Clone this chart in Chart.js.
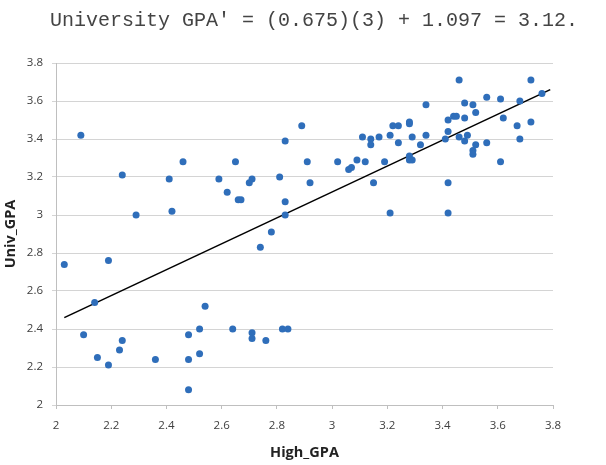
<!DOCTYPE html>
<html>
<head>
<meta charset="utf-8">
<script src="https://cdn.jsdelivr.net/npm/chart.js@4.4.1/dist/chart.umd.min.js"></script>
<style>
  html, body { margin: 0; padding: 0; background: #fff; }
  #wrap { width: 606px; height: 465px; position: relative; }
</style>
</head>
<body>
<div id="wrap"><canvas id="gpaChart"></canvas></div>
<script>
const titleText = "University GPA' = (0.675)(3) + 1.097 = 3.12.";

// high school GPA / university GPA
const highGPA = [
    2.09, 2.24, 2.29, 2.41, 2.46, 2.42, 2.59, 2.62, 2.65, 2.66,
    2.67, 2.70, 2.71, 2.78, 2.81, 2.83, 2.83, 2.83, 2.89, 2.91,
    2.92, 3.02, 3.06, 3.07, 3.09, 3.11, 3.12, 3.14, 3.14, 3.15,
    3.17, 3.19, 3.21, 3.21, 3.22, 3.24, 3.24, 3.28, 3.28, 3.29,
    3.28, 3.28, 3.29, 3.32, 3.34, 3.34, 3.41, 3.42, 3.42, 3.42,
    3.42, 3.44, 3.45, 3.46, 3.46, 3.48, 3.48, 3.48, 3.49, 3.51,
    3.52, 3.52, 3.51, 3.51, 3.56, 3.56, 3.61, 3.61, 3.62, 3.67,
    3.68, 3.68, 3.72, 3.72, 3.76,
    2.03, 2.19, 2.14, 2.10, 2.15, 2.19, 2.23, 2.24, 2.36, 2.48,
    2.48, 2.48, 2.52, 2.52, 2.54, 2.64, 2.74, 2.71, 2.71, 2.76,
    2.82, 2.84
];
const univGPA = [
    3.42, 3.21, 3.00, 3.19, 3.28, 3.02, 3.19, 3.12, 3.28, 3.08,
    3.08, 3.17, 3.19, 2.91, 3.20, 3.39, 3.07, 3.00, 3.47, 3.28,
    3.17, 3.28, 3.24, 3.25, 3.29, 3.41, 3.28, 3.40, 3.37, 3.17,
    3.41, 3.28, 3.42, 3.01, 3.47, 3.47, 3.38, 3.49, 3.48, 3.41,
    3.31, 3.29, 3.29, 3.37, 3.58, 3.42, 3.40, 3.50, 3.44, 3.17,
    3.01, 3.52, 3.52, 3.71, 3.41, 3.59, 3.51, 3.39, 3.42, 3.58,
    3.54, 3.37, 3.34, 3.32, 3.62, 3.38, 3.61, 3.28, 3.51, 3.47,
    3.60, 3.40, 3.71, 3.49, 3.64,
    2.74, 2.76, 2.54, 2.37, 2.25, 2.21, 2.29, 2.34, 2.24, 2.37,
    2.24, 2.08, 2.40, 2.27, 2.52, 2.40, 2.83, 2.38, 2.35, 2.34,
    2.40, 2.40
];

// regression line end points
const lineX = [2.03, 3.79];
const lineY = [2.46, 3.66];

const axisMin = 2;
const axisMax = 3.8;
const tickStep = 0.2;

const points = highGPA.map((x, i) => ({ x: x, y: univGPA[i] }));
const linePts = lineX.map((x, i) => ({ x: x, y: lineY[i] }));

const fmtTick = v => String(+Number(v).toFixed(1));

// title in typewriter font above the plot
const titlePlugin = {
    id: 'monoTitle',
    afterDraw(chart) {
        const ctx = chart.ctx;
        ctx.save();
        ctx.font = '20px "Liberation Mono", "DejaVu Sans Mono", monospace';
        ctx.fillStyle = '#444444';
        ctx.textAlign = 'left';
        ctx.textBaseline = 'middle';
        ctx.fillText(titleText, 50, 21);
        ctx.restore();
    }
};

const ctx = document.getElementById('gpaChart').getContext('2d');
new Chart(ctx, {
    type: 'scatter',
    data: {
        datasets: [
            {
                label: 'Students',
                data: points,
                backgroundColor: '#2F6EBA',
                borderColor: '#2F6EBA',
                pointRadius: 3.5,
                pointBorderWidth: 0
            },
            {
                type: 'line',
                label: 'Regression',
                data: linePts,
                borderColor: '#000000',
                borderWidth: 1.6,
                pointRadius: 0,
                fill: false
            }
        ]
    },
    options: {
        responsive: true,
        maintainAspectRatio: false,
        animation: false,
        layout: {
            padding: { top: 63, right: 53, bottom: 0, left: 0 }
        },
        plugins: {
            legend: { display: false },
            tooltip: { enabled: false }
        },
        scales: {
            x: {
                type: 'linear',
                min: axisMin,
                max: axisMax,
                ticks: {
                    stepSize: tickStep,
                    callback: fmtTick,
                    color: '#404040',
                    font: { family: '"Open Sans", "Liberation Sans", sans-serif', size: 11.5 },
                    padding: 10,
                    maxRotation: 0
                },
                grid: {
                    drawOnChartArea: false,
                    color: '#bfbfbf',
                    tickLength: 4
                },
                border: { color: '#bfbfbf' },
                title: {
                    display: true,
                    text: 'High_GPA',
                    color: '#222222',
                    font: { family: '"Open Sans", "Liberation Sans", sans-serif', size: 14.5, weight: 'bold' },
                    padding: { top: 0, bottom: 3 }
                },
                afterFit: s => { s.height = 60; }
            },
            y: {
                type: 'linear',
                min: axisMin,
                max: axisMax,
                ticks: {
                    stepSize: tickStep,
                    callback: fmtTick,
                    color: '#404040',
                    font: { family: '"Open Sans", "Liberation Sans", sans-serif', size: 11.5 },
                    padding: 9
                },
                grid: {
                    color: '#d4d4d4',
                    tickLength: 4
                },
                border: { color: '#bfbfbf' },
                title: {
                    display: true,
                    text: 'Univ_GPA',
                    color: '#222222',
                    font: { family: '"Open Sans", "Liberation Sans", sans-serif', size: 14.5, weight: 'bold' },
                    padding: { top: 2, bottom: 0 }
                },
                afterFit: s => { s.width = 56; }
            }
        }
    },
    plugins: [titlePlugin]
});
</script>
</body>
</html>
